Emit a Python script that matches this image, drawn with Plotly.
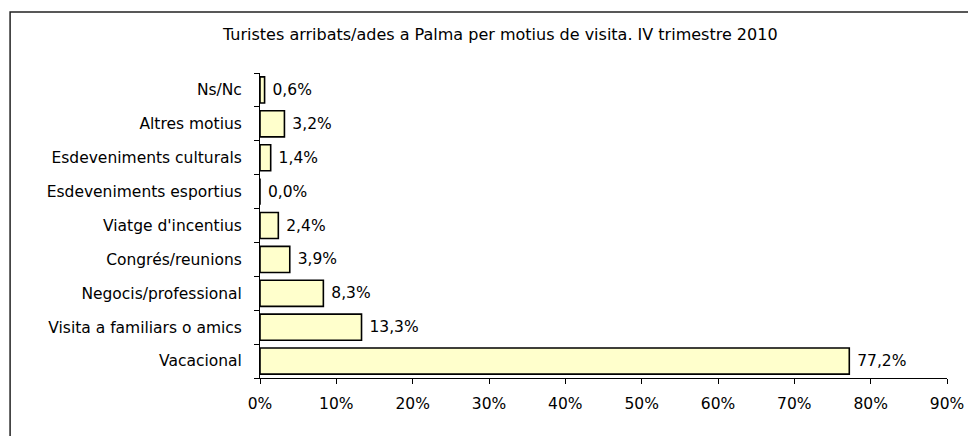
import plotly.graph_objects as go

categories = ["Vacacional", "Visita a familiars o amics", "Negocis/professional",
              "Congrés/reunions", "Viatge d'incentius", "Esdeveniments esportius",
              "Esdeveniments culturals", "Altres motius", "Ns/Nc"]
values = [77.2, 13.3, 8.3, 3.9, 2.4, 0.0, 1.4, 3.2, 0.6]
x_ticks = [0, 10, 20, 30, 40, 50, 60, 70, 80, 90]
x_tick_labels = [f"{t}%" for t in x_ticks]
title = "Turistes arribats/ades a Palma per motius de visita. IV trimestre 2010"

labels = ["\u00a0" + f"{v:.1f}%".replace(".", ",") for v in values]

# page body has an 8px margin; work in page coordinates and convert
OFF = 8
W, H = 976 - OFF, 436 - OFF
L, R, T, B = 260 - OFF, 976 - 950, 73 - OFF, 436 - 378
pw, ph = W - L - R, H - T - B

def px_x(p):
    return (p - OFF - L) / pw

def px_y(p):
    return (H - B - (p - OFF)) / ph

FONT = "DejaVu Sans, Verdana, sans-serif"
FS = 15.5

fig = go.Figure(go.Bar(
    y=categories, x=values, orientation="h",
    marker=dict(color="#FFFFCC", line=dict(color="black", width=1.6)),
    text=labels, textposition="outside", cliponaxis=False,
    textfont=dict(family=FONT, size=FS, color="black"),
))

fig.update_layout(
    width=W, height=H,
    margin=dict(l=L, r=R, t=T, b=B),
    paper_bgcolor="white", plot_bgcolor="white",
    bargap=0.23,
    showlegend=False,
    font=dict(family=FONT, size=FS, color="black"),
    xaxis=dict(range=[0, 90], tickvals=x_ticks, ticktext=x_tick_labels,
               showgrid=False, zeroline=False, showline=True, linecolor="black", linewidth=1,
               ticks="outside", ticklen=5, tickcolor="black", ticklabelstandoff=6,
               tickfont=dict(family=FONT, size=FS, color="black"), fixedrange=True),
    yaxis=dict(type="category", categoryorder="array", categoryarray=categories,
               showgrid=False, zeroline=False, showline=True, linecolor="black", linewidth=1,
               ticks="outside", ticklen=5, tickcolor="black", tickson="boundaries",
               ticklabelstandoff=14,
               tickfont=dict(family=FONT, size=FS, color="black"), fixedrange=True),
    annotations=[dict(text=title, xref="paper", yref="paper", x=px_x(501), y=px_y(34),
                      xanchor="center", yanchor="middle", showarrow=False,
                      font=dict(family=FONT, size=16, color="black"))],
    shapes=[dict(type="rect", xref="paper", yref="paper",
                 x0=px_x(9), x1=px_x(1000), y0=px_y(460), y1=px_y(12),
                 line=dict(color="#222", width=1.5), layer="below")],
)

fig.write_html("out.html")
